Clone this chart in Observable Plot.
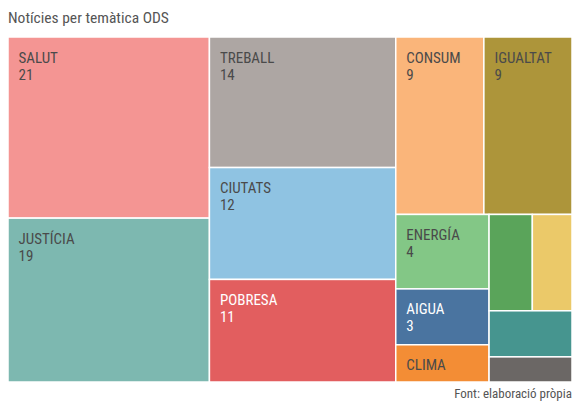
<!DOCTYPE html>
<html><head><meta charset="utf-8">
<script src="https://cdn.jsdelivr.net/npm/d3@7"></script>
<script src="https://cdn.jsdelivr.net/npm/@observablehq/plot@0.6"></script>
<style>
body{margin:0;background:#fff;font-family:"Liberation Sans Narrow","Roboto Condensed",Roboto,sans-serif;}
#title{height:37px;box-sizing:border-box;padding:10px 0 0 8px;font-size:15.5px;line-height:16px;color:#555;}
#chart svg{display:block;}
#foot{text-align:right;padding:5px 2px 0 0;font-size:13px;line-height:14px;color:#555;}
</style></head><body>
<div id="title">Notícies per temàtica ODS</div>
<div id="chart"></div>
<div id="foot">Font: elaboració pròpia</div>
<script>
const categories = ["SALUT","JUSTÍCIA","TREBALL","CIUTATS","POBRESA","CONSUM","IGUALTAT","ENERGÍA","AIGUA","CLIMA","","","",""];
const values = [21,19,14,12,11,9,9,4,3,2,2.4,2.2,2.2,1.2];
const palette = ["#f49593","#7db8b0","#ada6a3","#8fc3e2","#e25e5f","#fab57a","#ad953a","#83c786","#4a74a0","#f38d35","#5aa45a","#ebc969","#46958f","#6b6765"];

const W = 564, H = 345;
const root = d3.hierarchy({children: categories.map((name, i) => ({name, v: values[i], i}))})
  .sum(d => d.v || 0);
d3.treemap().tile(d3.treemapSquarify).size([W, H])(root);
const cells = root.leaves().map(l => ({
  name: l.data.name, value: l.data.v, i: l.data.i,
  x0: l.x0, x1: l.x1, y0: l.y0, y1: l.y1
}));
const textColor = d => d3.lab(palette[d.i]).l < 60 ? "#ffffff" : "#4a4a4a";

const plot = Plot.plot({
  width: 574, height: 345,
  marginLeft: 8, marginRight: 2, marginTop: 0, marginBottom: 0,
  x: {domain: [0, W], range: [8, 572], axis: null},
  y: {domain: [0, H], range: [0, 345], axis: null},
  color: {type: "identity"},
  style: {fontFamily: '"Liberation Sans Narrow","Roboto Condensed",Roboto,sans-serif'},
  marks: [
    Plot.rect(cells, {x1: "x0", x2: "x1", y1: "y0", y2: "y1", fill: d => palette[d.i], stroke: "white", strokeWidth: 1.5}),
    Plot.text(cells.filter(d => d.name), {x: "x0", y: "y0", text: "name", dx: 10, dy: 25, lineAnchor: "bottom", textAnchor: "start", fill: textColor, fontSize: 15}),
    Plot.text(cells.filter(d => d.name && (d.y1 - d.y0) > 45), {x: "x0", y: "y0", text: d => String(d.value), dx: 10, dy: 42, lineAnchor: "bottom", textAnchor: "start", fill: textColor, fontSize: 15})
  ]
});
document.getElementById("chart").appendChild(plot);
</script>
</body></html>
